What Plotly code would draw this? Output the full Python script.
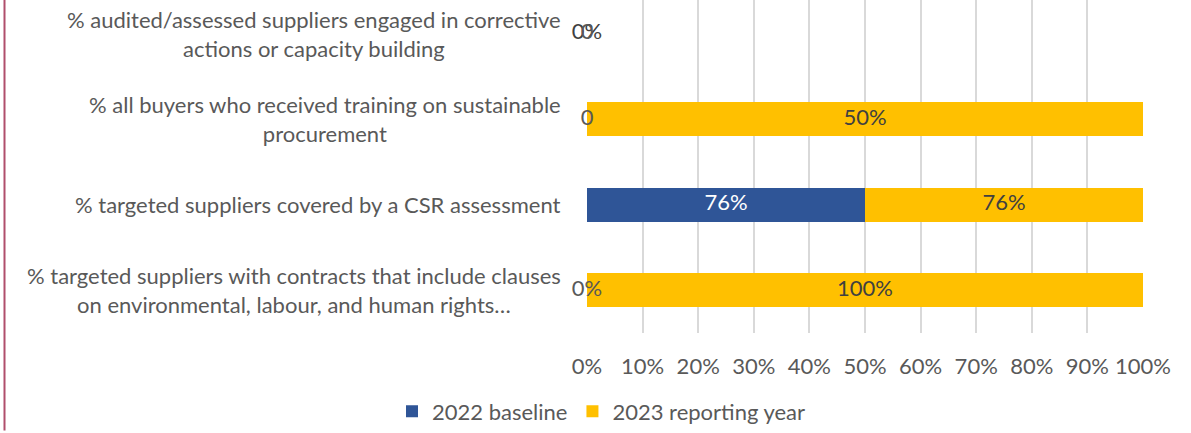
import plotly.graph_objects as go

# ---- data (top-to-bottom order as shown) ----
categories = [
    "% audited/assessed suppliers engaged in corrective<br>actions or capacity building",
    "% all buyers who received training on sustainable<br>procurement",
    "% targeted suppliers covered by a CSR assessment",
    "% targeted suppliers with contracts that include clauses<br>on environmental, labour, and human rights…",
]
series_names = ["2022 baseline", "2023 reporting year"]
baseline_values = [0, 0, 76, 0]
reporting_values = [0, 50, 76, 100]
baseline_labels = ["0", "0", "76%", "0%"]
reporting_labels = ["0%", "50%", "76%", "100%"]
x_tick_values = [0, 10, 20, 30, 40, 50, 60, 70, 80, 90, 100]
x_tick_labels = ["0%", "10%", "20%", "30%", "40%", "50%", "60%", "70%", "80%", "90%", "100%"]

BLUE = "#2F5597"
YELLOW = "#FFC000"
GRAY = "#595959"
FONT = "Lato"
FS = 22

W, H = 1191, 433
L, R, T, B = 587, 48, 0, 98
plot_w = W - L - R
plot_h = H - T - B

fig = go.Figure()
fig.add_trace(go.Bar(y=categories, x=baseline_values, orientation="h", name=series_names[0],
                     marker=dict(color=BLUE, line=dict(width=0)), width=0.4))
fig.add_trace(go.Bar(y=categories, x=reporting_values, orientation="h", name=series_names[1],
                     marker=dict(color=YELLOW, line=dict(width=0)), width=0.4))

# data labels at the centre of each normalised segment
b_pos, r_pos, b_col = [], [], []
for b, r in zip(baseline_values, reporting_values):
    tot = b + r
    bp = 100 * b / tot if tot else 0
    rp = 100 * r / tot if tot else 0
    b_pos.append(bp / 2)
    r_pos.append(bp + rp / 2)
    b_col.append("white" if bp > 0 else GRAY)

fig.add_trace(go.Scatter(y=categories, x=r_pos, mode="text", text=reporting_labels,
                         textfont=dict(family=FONT, size=FS, color="#404040"),
                         cliponaxis=False, showlegend=False, hoverinfo="skip"))
fig.add_trace(go.Scatter(y=categories, x=b_pos, mode="text", text=baseline_labels,
                         textfont=dict(family=FONT, size=FS, color=b_col),
                         cliponaxis=False, showlegend=False, hoverinfo="skip"))

# category labels (centred multi-line, like the original)
for c in categories:
    fig.add_annotation(xref="paper", x=0, yref="y", y=c, text=c, showarrow=False,
                       xanchor="right", xshift=-24, align="center",
                       font=dict(family=FONT, size=FS, color=GRAY))

# left page border
fig.add_shape(type="line", xref="paper", yref="paper",
              x0=(4.5 - L) / plot_w, x1=(4.5 - L) / plot_w, y0=-B / plot_h, y1=1.0,
              line=dict(color="#B04E6C", width=2))

fig.update_layout(
    width=W, height=H, autosize=False,
    margin=dict(l=L, r=R, t=T, b=B),
    barmode="stack", barnorm="percent",
    plot_bgcolor="white", paper_bgcolor="white",
    font=dict(family=FONT, size=FS, color=GRAY),
    xaxis=dict(range=[0, 100], tickvals=x_tick_values, ticktext=x_tick_labels,
               showgrid=True, gridcolor="#D9D9D9", gridwidth=1.5, zeroline=False,
               showline=False, ticks="", ticklabelstandoff=18,
               tickfont=dict(family=FONT, size=FS, color=GRAY)),
    yaxis=dict(categoryorder="array", categoryarray=categories,
               range=[3.5, -0.395], showticklabels=False, showgrid=False,
               zeroline=False, showline=False, ticks=""),
    legend=dict(orientation="h", x=(392 - L) / plot_w, xanchor="left",
                y=(plot_h - 414) / plot_h, yanchor="middle",
                font=dict(family=FONT, size=FS, color=GRAY), traceorder="normal"),
    showlegend=True,
)

fig.write_html("out.html", config={"displayModeBar": False},
               post_script="document.body.style.margin='0';")
